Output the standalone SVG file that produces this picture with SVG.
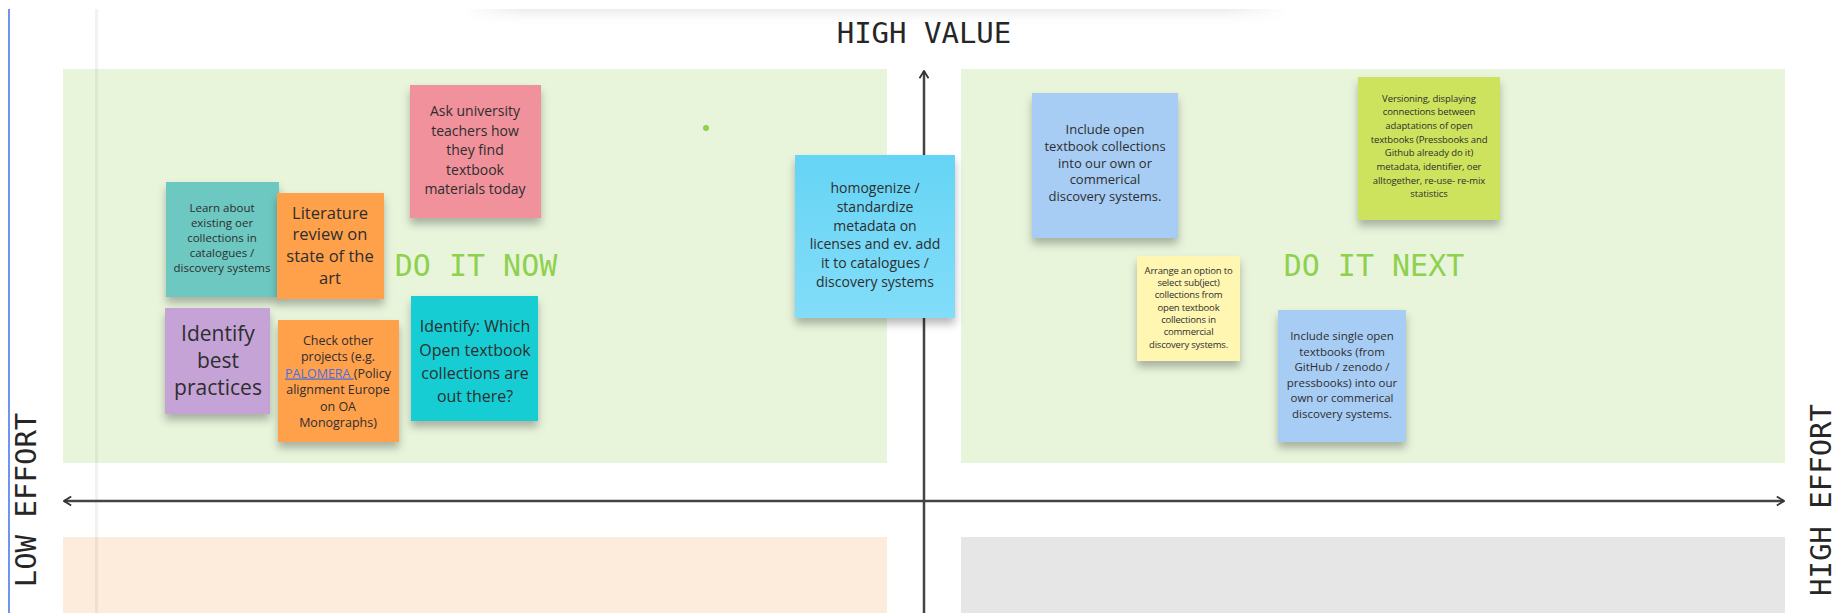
<svg xmlns="http://www.w3.org/2000/svg" width="1837" height="613" viewBox="0 0 1837 613">
<style>
.note{filter:url(#sh)}
.t{font-family:"Open Sans","Noto Sans",sans-serif;fill:#2e2e2e;text-anchor:middle}
.ax{font-family:"DejaVu Sans Mono","Liberation Mono",monospace;font-size:29px;fill:#262626;text-anchor:middle}
.q{font-family:"DejaVu Sans Mono","Liberation Mono",monospace;font-size:30px;fill:#8fd14f;text-anchor:middle}
.axis{stroke:#444;stroke-width:2.5;fill:none}
</style>
<defs>
<filter id="sh" x="-20%" y="-20%" width="140%" height="150%">
<feDropShadow dx="0" dy="6" stdDeviation="4" flood-color="#000" flood-opacity="0.28"/>
</filter>
<linearGradient id="topband" x1="0" y1="0" x2="0" y2="1">
<stop offset="0" stop-color="#ececef"/>
<stop offset="1" stop-color="#ffffff" stop-opacity="0"/>
</linearGradient>
<linearGradient id="bandfade" x1="0" y1="0" x2="1" y2="0">
<stop offset="0" stop-color="#fff" stop-opacity="0"/>
<stop offset="0.08" stop-color="#fff" stop-opacity="1"/>
<stop offset="0.92" stop-color="#fff" stop-opacity="1"/>
<stop offset="1" stop-color="#fff" stop-opacity="0"/>
</linearGradient>
<mask id="bandmask"><rect x="460" y="9" width="830" height="18" fill="url(#bandfade)"/></mask>
<linearGradient id="cyanG" x1="0" y1="0" x2="0" y2="1">
<stop offset="0" stop-color="#66d4f5"/>
<stop offset="1" stop-color="#82ddf9"/>
</linearGradient>
<marker id="chev" viewBox="0 0 10 12" refX="9" refY="6" markerWidth="9" markerHeight="12" orient="auto-start-reverse" markerUnits="userSpaceOnUse">
<path d="M1,1 L9,6 L1,11" fill="none" stroke="#333" stroke-width="2"/>
</marker>
</defs>
<rect width="1837" height="613" fill="#ffffff"/>
<rect x="460" y="9" width="830" height="18" fill="url(#topband)" mask="url(#bandmask)"/>
<g id="quadrants">
<rect x="63" y="69" width="824" height="394" fill="#e8f5db"/>
<rect x="961" y="69" width="824" height="394" fill="#e8f5db"/>
<rect x="63" y="537" width="824" height="76" fill="#fdebdc"/>
<rect x="961" y="537" width="824" height="76" fill="#e6e6e6"/>
</g>
<line x1="9" y1="9" x2="9" y2="613" stroke="#4a7bea" stroke-width="1.6"/>
<line x1="96.5" y1="9" x2="96.5" y2="613" stroke="#000" stroke-opacity="0.05" stroke-width="3"/>
<circle cx="706" cy="128" r="3" fill="#8fd14f"/>
<g id="labels">
<text class="ax" x="924" y="43">HIGH VALUE</text>
<text class="ax" transform="translate(36,500) rotate(-90)">LOW EFFORT</text>
<text class="ax" font-size="28" transform="translate(1831,500) rotate(-90)">HIGH EFFORT</text>
<text class="q" x="476" y="276">DO IT NOW</text>
<text class="q" x="1374" y="276">DO IT NEXT</text>
</g>
<g id="connectors">
<line class="axis" x1="924" y1="613" x2="924" y2="71" marker-end="url(#chev)"/>
<line class="axis" x1="64" y1="501" x2="1784" y2="501" marker-start="url(#chev)" marker-end="url(#chev)"/>
</g>
<g id="note-learn">
<rect class="note" x="166" y="182" width="113" height="115" fill="#6cc8c1"/>
<text class="t" font-size="11.5"><tspan x="222" y="212">Learn about</tspan><tspan x="222" y="227">existing oer</tspan><tspan x="222" y="242">collections in</tspan><tspan x="222" y="257">catalogues /</tspan><tspan x="222" y="272">discovery systems</tspan></text>
</g>
<g id="note-literature">
<rect class="note" x="277" y="193" width="107" height="106" fill="#ffa04c"/>
<text class="t" font-size="16.5"><tspan x="330" y="219">Literature</tspan><tspan x="330" y="240">review on</tspan><tspan x="330" y="262">state of the</tspan><tspan x="330" y="284">art</tspan></text>
</g>
<g id="note-ask">
<rect class="note" x="410" y="85" width="131" height="133" fill="#f0919b"/>
<text class="t" font-size="14"><tspan x="475" y="116">Ask university</tspan><tspan x="475" y="136">teachers how</tspan><tspan x="475" y="155">they find</tspan><tspan x="475" y="175">textbook</tspan><tspan x="475" y="194">materials today</tspan></text>
</g>
<g id="note-best">
<rect class="note" x="165" y="308" width="105" height="106" fill="#c5a3d7"/>
<text class="t" font-size="21"><tspan x="218" y="341">Identify</tspan><tspan x="218" y="368">best</tspan><tspan x="218" y="395">practices</tspan></text>
</g>
<g id="note-check">
<rect class="note" x="278" y="320" width="121" height="122" fill="#ffa04c"/>
<text class="t" font-size="12.5"><tspan x="338" y="344.5">Check other</tspan><tspan x="338" y="361">projects (e.g.</tspan><tspan x="338" y="377.5"><tspan fill="#4a6ee0" text-decoration="underline">PALOMERA </tspan>(Policy</tspan><tspan x="338" y="394">alignment Europe</tspan><tspan x="338" y="410.5">on OA</tspan><tspan x="338" y="427">Monographs)</tspan></text>
</g>
<g id="note-which">
<rect class="note" x="411" y="296" width="127" height="125" fill="#14cdd4"/>
<text class="t" font-size="16"><tspan x="475" y="332">Identify: Which</tspan><tspan x="475" y="356">Open textbook</tspan><tspan x="475" y="379">collections are</tspan><tspan x="475" y="402">out there?</tspan></text>
</g>
<g id="note-homogenize">
<rect class="note" x="795" y="155" width="160" height="163" fill="url(#cyanG)"/>
<text class="t" font-size="14"><tspan x="875" y="193">homogenize /</tspan><tspan x="875" y="212">standardize</tspan><tspan x="875" y="231">metadata on</tspan><tspan x="875" y="249">licenses and ev. add</tspan><tspan x="875" y="268">it to catalogues /</tspan><tspan x="875" y="287">discovery systems</tspan></text>
</g>
<g id="note-include-collections">
<rect class="note" x="1032" y="93" width="146" height="145" fill="#a7cdf5"/>
<text class="t" font-size="13"><tspan x="1105" y="134">Include open</tspan><tspan x="1105" y="151">textbook collections</tspan><tspan x="1105" y="167.5">into our own or</tspan><tspan x="1105" y="184">commerical</tspan><tspan x="1105" y="201">discovery systems.</tspan></text>
</g>
<g id="note-arrange">
<rect class="note" x="1137" y="256" width="103" height="105" fill="#fff6b1"/>
<text class="t" font-size="9.5" letter-spacing="-0.2"><tspan x="1188.5" y="273.5">Arrange an option to</tspan><tspan x="1188.5" y="285.8">select sub(ject)</tspan><tspan x="1188.5" y="298">collections from</tspan><tspan x="1188.5" y="310.5">open textbook</tspan><tspan x="1188.5" y="322.8">collections in</tspan><tspan x="1188.5" y="335.2">commercial</tspan><tspan x="1188.5" y="347.5">discovery systems.</tspan></text>
</g>
<g id="note-versioning">
<rect class="note" x="1358" y="77" width="142" height="143" fill="#cde35d"/>
<text class="t" font-size="9.5" letter-spacing="-0.1"><tspan x="1429" y="101.5">Versioning, displaying</tspan><tspan x="1429" y="115.2">connections between</tspan><tspan x="1429" y="128.8">adaptations of open</tspan><tspan x="1429" y="142.5">textbooks (Pressbooks and</tspan><tspan x="1429" y="156.2">Github already do it)</tspan><tspan x="1429" y="169.8">metadata, identifier, oer</tspan><tspan x="1429" y="183.5">alltogether, re-use- re-mix</tspan><tspan x="1429" y="197.2">statistics</tspan></text>
</g>
<g id="note-include-single">
<rect class="note" x="1278" y="310" width="128" height="132" fill="#a7cdf5"/>
<text class="t" font-size="11.5"><tspan x="1342" y="340">Include single open</tspan><tspan x="1342" y="355.5">textbooks (from</tspan><tspan x="1342" y="371">GitHub / zenodo /</tspan><tspan x="1342" y="386.5">pressbooks) into our</tspan><tspan x="1342" y="402">own or commerical</tspan><tspan x="1342" y="417.5">discovery systems.</tspan></text>
</g>
</svg>
